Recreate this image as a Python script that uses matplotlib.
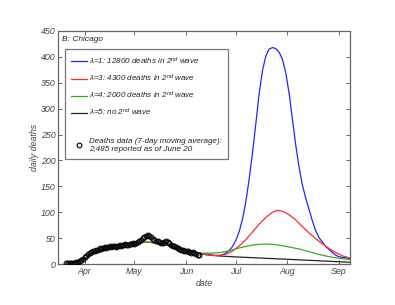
import matplotlib
matplotlib.use("Agg")
import matplotlib.pyplot as plt
from matplotlib.lines import Line2D
import numpy as np

plt.rcParams['font.family'] = ['Liberation Sans', 'DejaVu Sans']
plt.rcParams['mathtext.fontset'] = 'custom'
plt.rcParams['mathtext.rm'] = 'Liberation Sans:italic'
plt.rcParams['mathtext.it'] = 'Liberation Sans:italic'

# x values: day number counted from March 1 (Apr 1 = 31)
month_days = [31, 61, 92, 122, 153, 184]
month_labels = ['Apr', 'May', 'Jun', 'Jul', 'Aug', 'Sep']

# Observed deaths (7-day moving average)
data_days = list(range(20, 101))
data_vals = [1, 1, 1, 2, 1, 2, 3, 3, 5, 7, 10, 13, 16, 20, 22, 24, 25, 26, 28, 27,
             30, 29, 31, 33, 31, 32, 34, 33, 35, 34, 33, 35, 36, 35, 37, 38, 36, 37, 39, 38,
             40, 39, 41, 43, 44, 47, 50, 53, 55, 56, 55, 52, 48, 46, 45, 44, 43, 41, 40, 42,
             44, 43, 40, 37, 35, 34, 33, 31, 29, 28, 27, 26, 25, 25, 24, 22, 23, 21, 20, 18, 17]

# Common model fit (first wave)
fit_days = [20, 24, 28, 32, 36, 40, 44, 48, 52, 56, 60, 64, 68, 72, 76, 80, 84, 88, 92, 96, 100]
fit_vals = [1, 2, 5, 13, 21, 27, 31, 34, 36, 38, 40, 41.5, 42, 41.5, 40, 37, 33, 29, 26, 23, 21]

# Scenario projections
blue_days = [104, 108, 112, 114, 116, 118, 120, 122, 124, 126, 128, 130, 132, 134, 136, 138,
             140, 142, 144, 146, 148, 150, 152, 154, 156, 158, 160, 162, 164, 166, 168, 170,
             172, 174, 176, 178, 180, 182, 184, 186, 188, 191]
blue_vals = [18, 16.5, 16.5, 18, 21, 26, 34, 46, 63, 87, 121, 165, 215, 272, 330, 374,
             402, 415, 418, 416, 409, 395, 369, 329, 279, 229, 186, 152, 127, 105, 83, 64,
             51, 42, 34, 28, 22, 17, 14, 13, 12, 10]

red_days = [104, 108, 112, 116, 120, 124, 128, 132, 136, 140, 144, 147, 150, 154, 158, 162,
            166, 170, 174, 178, 182, 186, 191]
red_vals = [18, 16.5, 16.5, 19, 25, 35, 47, 62, 77, 90, 100, 103.6, 102, 95, 85, 72,
            60, 49, 39, 30, 22, 16, 11]

green_days = [104, 108, 112, 116, 120, 124, 128, 132, 136, 140, 144, 148, 152, 156, 160, 164,
              168, 172, 176, 180, 184, 188, 191]
green_vals = [21, 21, 22, 24, 27.5, 31, 34, 36.5, 38, 38.6, 38, 36.5, 34, 31.5, 29, 25.5,
              22, 18.5, 15.5, 13, 11, 9.5, 8.5]

black_days = [104, 110, 120, 130, 140, 150, 160, 170, 180, 191]
black_vals = [19, 16, 14, 12.5, 11, 9.6, 8, 6.5, 5, 3.3]

labels = ['λ=1: 12800 deaths in 2$^{nd}$ wave',
          'λ=3: 4300 deaths in 2$^{nd}$ wave',
          'λ=4: 2000 deaths in 2$^{nd}$ wave',
          'λ=5: no 2$^{nd}$ wave']
colors = ['#2323ff', '#ff2a2a', '#3aaa22', '#222222']

fig = plt.figure(figsize=(3.95, 3.05), dpi=100)
ax = fig.add_axes([58/395, 1-264/305, 292/395, 233/305])

scen = [(blue_days, blue_vals), (red_days, red_vals), (green_days, green_vals), (black_days, black_vals)]
zorders = [3, 4, 5, 2]
handles = []
for (d, v), c, lab, z in zip(scen, colors, labels, zorders):
    xs = fit_days + d
    ys = fit_vals + v
    h, = ax.plot(xs, ys, color=c, lw=0.9, label=lab, zorder=z)
    handles.append(h)

dh, = ax.plot(data_days, data_vals, 'o', mfc='none', mec='black', ms=3.4, mew=0.8,
              color='black', zorder=6)

ax.set_xlim(15, 190.6)
ax.set_ylim(0, 450)
ax.set_yticks(range(0, 451, 50))
ax.set_xticks(month_days)
ax.set_xticklabels(month_labels)

for s in ax.spines.values():
    s.set_color('#666666')
    s.set_linewidth(0.9)
ax.tick_params(direction='in', length=3, width=0.7, colors='#666666', labelcolor='#444444',
               labelsize=6.4, top=True, right=True, pad=2)
for t in ax.get_xticklabels() + ax.get_yticklabels():
    t.set_fontstyle('italic')

ax.set_xlabel('date', fontsize=6.4, fontstyle='italic', color='#444444', labelpad=2)
ax.set_ylabel('daily deaths', fontsize=6.4, fontstyle='italic', color='#444444', labelpad=1)

ax.text(0.013, 0.978, 'B: Chicago', transform=ax.transAxes, fontsize=6.0, fontstyle='italic',
        color='#222222', va='top', ha='left')

blank = Line2D([], [], linestyle='none', marker=None)
leg_handles = handles + [blank, dh]
leg_labels = labels + [' ', 'Deaths data (7-day moving average):\n2,485 reported as of June 20']
leg = ax.legend(leg_handles, leg_labels, loc='upper left', bbox_to_anchor=(0.024, 0.923),
                fontsize=5.8, frameon=True, fancybox=False, edgecolor='#555555',
                handlelength=1.9, handletextpad=0.3, labelspacing=0.73, borderpad=0.8,
                borderaxespad=0)
leg.get_frame().set_linewidth(0.9)
leg.set_zorder(10)
for t in leg.get_texts():
    t.set_fontstyle('italic')
    t.set_color('#222222')

fig.savefig('out.png', dpi=100)
